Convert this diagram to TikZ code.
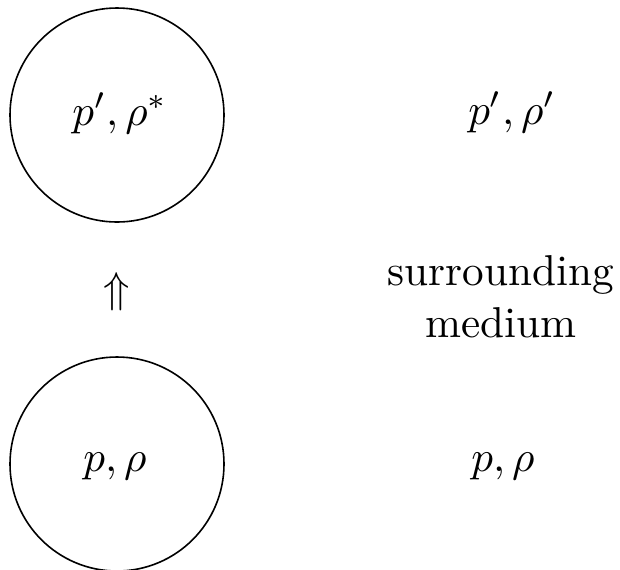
\documentclass[tikz,border=0pt]{standalone}
\begin{document}
\begin{tikzpicture}[x=0.5pt,y=-0.5pt,
  ball/.style={circle,draw,line width=0.8pt,minimum size=214pt*0.5,inner sep=0pt},
  txt/.style={scale=2.16,inner sep=0pt,anchor=base,align=center}]
\useasboundingbox (0,0) rectangle (620,569);
\node[ball] (top) at (117,115) {};
\node[ball] (bot) at (117,464) {};
\node[txt] (tl) at (120,125) {$p',\rho^*$};
\node[txt] (bl) at (115,471) {$p,\rho$};
\node[txt] (tr) at (512,124) {$p',\rho'$};
\node[txt] (br) at (503,471) {$p,\rho$};
\node[txt] (med) at (501,337) {surrounding\\medium};
\node[txt] (arr) at (117,302) {$\Uparrow$};
\end{tikzpicture}
\end{document}
